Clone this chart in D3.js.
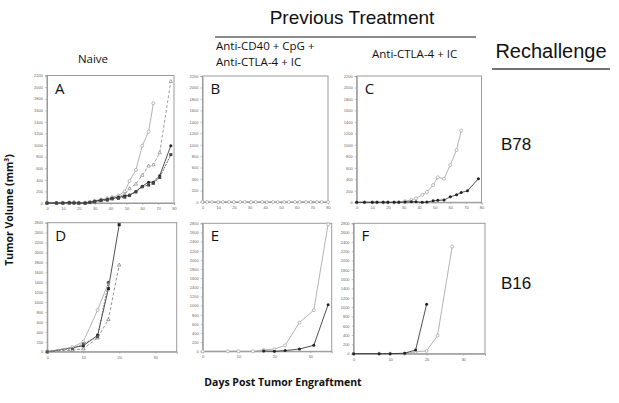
<!DOCTYPE html>
<html><head><meta charset="utf-8">
<script src="https://cdn.jsdelivr.net/npm/d3@7"></script>
<style>body{margin:0;background:#fff}svg{display:block}</style>
</head><body>
<svg id="c" width="619" height="403"></svg>
<script>
// ---------- DATA ----------
const xTicksLong = [0,10,20,30,40,50,60,70,80];
const xTicksShort = [0,10,20,30];
const yTicks2200 = d3.range(0,2201,200);
const yTicks2600 = d3.range(0,2601,200);
const yTicks2800 = d3.range(0,2801,200);

// Panel A (Naive, B78)
const aDays1 = [0,6,10,14,17,20,24,27,30,34,38,41,45,49,52,56,60,64,67];
const aVals1 = [0,0,0,10,10,0,0,20,40,60,80,100,130,200,380,570,990,1230,1720];
const aDays2 = [0,6,10,14,17,20,24,27,30,34,38,41,45,49,52,56,60,64,67,71,78];
const aVals2 = [0,0,0,0,10,0,0,10,30,50,70,90,110,150,250,330,480,640,660,870,2100];
const aDays3 = [0,6,10,14,17,20,24,27,30,34,38,41,45,49,52,56,60,64,67,71,78];
const aVals3 = [0,0,0,10,0,0,0,10,30,50,60,80,100,120,140,200,290,360,360,470,990];
const aDays4 = [0,6,10,14,17,20,24,27,30,34,38,41,45,49,52,56,60,64,67,71,78];
const aVals4 = [0,0,0,0,0,0,0,10,20,40,50,70,80,100,130,190,280,310,340,440,835];
// Panel B (all zero)
const bDays1 = [0,3,6,10,13,17,20,24,27,31,34,38,41,45,48,52,55,59,62,66,69,73,76,80];
const bVals1 = [0,0,0,0,0,0,0,0,0,0,0,0,0,0,0,0,0,0,0,0,0,0,0,0];
// Panel C
const cDays1 = [0,5,10,13,17,20,24,27,31,35,38,42,45,49,52,56,60,64,67];
const cVals1 = [0,0,0,0,0,0,0,5,20,40,70,130,180,300,435,410,650,910,1250];
const cDays2 = [0,5,10,13,17,20,24,27,31,35,38,42,45,49,52,56,60,64,67,71,78];
const cVals2 = [0,0,0,0,0,0,0,0,5,10,10,0,6,25,35,40,95,130,170,200,410];
// Panel D (Naive, B16)
const dDays1 = [0,7,10,14,17,20];
const dVals1 = [0,80,120,330,1270,2560];
const dDays2 = [0,7,10,14,17];
const dVals2 = [0,90,200,840,1390];
const dDays3 = [0,7,10,14,17,20];
const dVals3 = [0,30,60,280,650,1750];
const dDays4 = [0,7,10,14,17];
const dVals4 = [0,60,160,300,1400];
// Panel E
const eDays1 = [0,7,10,14,17,20,23,27,31,35];
const eVals1 = [0,0,0,0,30,45,130,630,900,2780];
const eDays2 = [17,20,23,27,31,35];
const eVals2 = [7,0,15,50,130,1020];
// Panel F
const fDays1 = [0,7,10,14,17,20,23,27];
const fVals1 = [0,0,0,0,40,60,390,2300];
const fDays2 = [0,7,10,14,17,20];
const fVals2 = [0,0,0,10,80,1060];

const panelLetters = ["A","B","C","D","E","F"];

// ---------- DRAW ----------
const svg = d3.select("#c");
const GRAY = "#a0a0a0", DARK = "#222";

const panels = [
  {L:panelLetters[0], box:[47,174,75.5,203], xd:[0,80], xt:xTicksLong, yd:[0,2200], yt:yTicks2200,
   series:[
     {d:aDays1,v:aVals1,m:"oc",c:GRAY,dash:null},
     {d:aDays2,v:aVals2,m:"ot",c:"#888",dash:"3,2"},
     {d:aDays3,v:aVals3,m:"fc",c:DARK,dash:null},
     {d:aDays4,v:aVals4,m:"fs",c:"#444",dash:"2,1"}]},
  {L:panelLetters[1], box:[202.5,328,76,202], xd:[0,80], xt:xTicksLong, yd:[0,2200], yt:yTicks2200,
   series:[{d:bDays1,v:bVals1,m:"oc",c:GRAY,dash:null}]},
  {L:panelLetters[2], box:[356.7,481.5,76,202.3], xd:[0,80], xt:xTicksLong, yd:[0,2200], yt:yTicks2200,
   series:[
     {d:cDays1,v:cVals1,m:"oc",c:GRAY,dash:null},
     {d:cDays2,v:cVals2,m:"fc",c:DARK,dash:null}]},
  {L:panelLetters[3], box:[47.3,176.7,222.7,351.7], xd:[0,36], xt:xTicksShort, yd:[0,2600], yt:yTicks2600,
   series:[
     {d:dDays1,v:dVals1,m:"fs",c:DARK,dash:null},
     {d:dDays2,v:dVals2,m:"oc",c:GRAY,dash:null},
     {d:dDays3,v:dVals3,m:"ot",c:"#777",dash:"3,2"},
     {d:dDays4,v:dVals4,m:"fc",c:"#555",dash:"1.5,1.5"}]},
  {L:panelLetters[4], box:[202.7,331.7,223.3,351.3], xd:[0,36], xt:xTicksShort, yd:[0,2800], yt:yTicks2800,
   series:[
     {d:eDays1,v:eVals1,m:"oc",c:GRAY,dash:null},
     {d:eDays2,v:eVals2,m:"fc",c:DARK,dash:null}]},
  {L:panelLetters[5], box:[353.6,485,223.3,353.7], xd:[0,36], xt:xTicksShort, yd:[0,2800], yt:yTicks2800,
   series:[
     {d:fDays1,v:fVals1,m:"oc",c:GRAY,dash:null},
     {d:fDays2,v:fVals2,m:"fc",c:DARK,dash:null}]}
];

panels.forEach(p => {
  const [x0,x1,y0,y1] = p.box;
  const x = d3.scaleLinear().domain(p.xd).range([x0,x1]);
  const y = d3.scaleLinear().domain(p.yd).range([y1,y0]);
  const g = svg.append("g");
  g.append("rect").attr("x",x0).attr("y",y0).attr("width",x1-x0).attr("height",y1-y0)
    .attr("fill","none").attr("stroke","#9a9a9a").attr("stroke-width",1);
  const ya = g.append("g").attr("transform",`translate(${x0},0)`)
    .call(d3.axisLeft(y).tickValues(p.yt).tickSize(2).tickPadding(2).tickFormat(d3.format("d")));
  const xa = g.append("g").attr("transform",`translate(0,${y1})`)
    .call(d3.axisBottom(x).tickValues(p.xt).tickSize(2).tickPadding(2).tickFormat(d3.format("d")));
  [ya,xa].forEach(a=>{
    a.select(".domain").attr("stroke","#9a9a9a");
    a.selectAll(".tick line").attr("stroke","#9a9a9a").attr("stroke-width",0.6);
    a.selectAll("text").attr("font-family","Liberation Sans, Arial, sans-serif")
      .attr("font-size","4px").attr("fill","#666");
  });
  g.append("text").attr("x",x0+8).attr("y",y0+18).text(p.L)
    .attr("font-family","Open Sans, sans-serif").attr("font-size","15px").attr("fill","#111");

  p.series.forEach(s => {
    const pts = s.d.map((d,i)=>[d,s.v[i]]);
    g.append("path").datum(pts)
      .attr("d", d3.line().x(d=>x(d[0])).y(d=>y(d[1])))
      .attr("fill","none").attr("stroke",s.c).attr("stroke-width",0.8)
      .attr("stroke-dasharray",s.dash);
    const mk = g.append("g").selectAll("g").data(pts).join("g")
      .attr("transform",d=>`translate(${x(d[0])},${y(d[1])})`);
    if (s.m==="oc") mk.append("circle").attr("r",1.5).attr("fill","#fff").attr("stroke",s.c).attr("stroke-width",0.7);
    else if (s.m==="fc") mk.append("circle").attr("r",1.5).attr("fill",s.c);
    else if (s.m==="fs") mk.append("rect").attr("x",-1.5).attr("y",-1.5).attr("width",3).attr("height",3).attr("fill",s.c);
    else mk.append("path").attr("d","M0,-1.8L1.7,1.2L-1.7,1.2Z").attr("fill","#fff").attr("stroke",s.c).attr("stroke-width",0.7);
  });
});

// ---------- TEXT ----------
const HF = "Liberation Sans, Arial, sans-serif";
const CF = "Open Sans, Lato, sans-serif";
svg.append("text").attr("x",352).attr("y",24).attr("text-anchor","middle")
  .attr("font-family",HF).attr("font-size","19px").attr("fill","#111").text("Previous Treatment");
svg.append("line").attr("x1",215).attr("x2",476).attr("y1",37).attr("y2",37).attr("stroke","#666").attr("stroke-width",1.3);
svg.append("text").attr("x",551).attr("y",58).attr("text-anchor","middle")
  .attr("font-family",HF).attr("font-size","20px").attr("fill","#111").text("Rechallenge");
svg.append("line").attr("x1",492).attr("x2",610).attr("y1",69).attr("y2",69).attr("stroke","#444").attr("stroke-width",1.3);
svg.append("text").attr("x",93).attr("y",63).attr("text-anchor","middle")
  .attr("font-family",CF).attr("font-size","11.5px").attr("fill","#111").text("Naive");
svg.append("text").attr("x",216).attr("y",50)
  .attr("font-family",CF).attr("font-size","11.5px").attr("fill","#111").text("Anti-CD40 + CpG +");
svg.append("text").attr("x",216).attr("y",66)
  .attr("font-family",CF).attr("font-size","11.5px").attr("fill","#111").text("Anti-CTLA-4 + IC");
svg.append("text").attr("x",372).attr("y",58)
  .attr("font-family",CF).attr("font-size","11.5px").attr("fill","#111").text("Anti-CTLA-4 + IC");
svg.append("text").attr("x",501).attr("y",150)
  .attr("font-family",HF).attr("font-size","17px").attr("fill","#111").text("B78");
svg.append("text").attr("x",501).attr("y",289)
  .attr("font-family",HF).attr("font-size","17px").attr("fill","#111").text("B16");
svg.append("text").attr("transform","translate(13,210) rotate(-90)").attr("text-anchor","middle")
  .attr("font-family",CF).attr("font-weight","bold").attr("font-size","10.5px").attr("fill","#111")
  .text("Tumor Volume (mm³)");
svg.append("text").attr("x",283).attr("y",386).attr("text-anchor","middle")
  .attr("font-family",CF).attr("font-weight","bold").attr("font-size","10.5px").attr("fill","#111")
  .text("Days Post Tumor Engraftment");
</script>
</body></html>
